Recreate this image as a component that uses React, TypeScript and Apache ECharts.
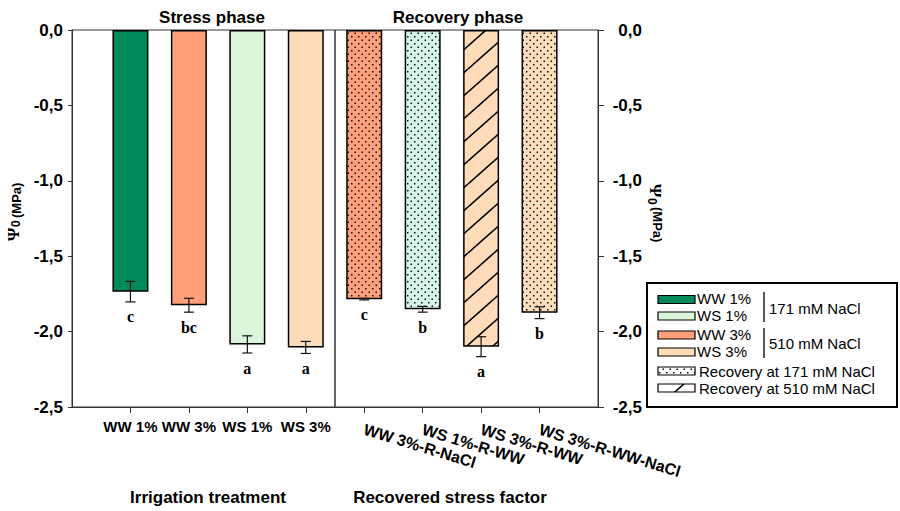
import React, { useEffect, useRef } from "react";
import * as echarts from "echarts";

// ---------- data ----------
const stressCategories = ["WW 1%", "WW 3%", "WS 1%", "WS 3%"];
const stressValues = [-1.735, -1.825, -2.085, -2.105];
const stressErrors = [0.068, 0.046, 0.057, 0.04];
const stressLetters = ["c", "bc", "a", "a"];

const recoveryCategories = ["WW 3%-R-NaCl", "WS 1%-R-WW", "WS 3%-R-WW", "WS 3%-R-WW-NaCl"];
const recoveryValues = [-1.785, -1.852, -2.1, -1.875];
const recoveryErrors = [0.005, 0.019, 0.066, 0.039];
const recoveryLetters = ["c", "b", "a", "b"];

const stressColors = ["#008a5c", "#ffa07a", "#dbf5db", "#ffdcb9"];
const recoveryColors = ["#ffa07a", "#d6f5ea", "#ffdcb9", "#ffdcb9"];
const recoveryPatterns = ["dots", "dots", "hatch", "dots"];

const yMin = -2.5;
const yMax = 0;
const yStep = 0.5;

// ---------- helpers ----------
function dotPattern(bg: string) {
  const c = document.createElement("canvas");
  c.width = 7;
  c.height = 7;
  const ctx = c.getContext("2d")!;
  ctx.fillStyle = bg;
  ctx.fillRect(0, 0, 7, 7);
  ctx.fillStyle = "#111";
  ctx.fillRect(1, 1, 1.5, 1.5);
  ctx.fillRect(4.5, 4.5, 1.5, 1.5);
  return { image: c, repeat: "repeat", imageWidth: 7, imageHeight: 7 } as any;
}

function hatchPattern(bg: string) {
  const W = 26;
  const H = 23;
  const c = document.createElement("canvas");
  c.width = W;
  c.height = H;
  const ctx = c.getContext("2d")!;
  ctx.fillStyle = bg;
  ctx.fillRect(0, 0, W, H);
  ctx.strokeStyle = "#000";
  ctx.lineWidth = 1.6;
  for (let dx = -W; dx <= W; dx += W) {
    for (let dy = -H; dy <= H; dy += H) {
      ctx.beginPath();
      ctx.moveTo(dx, dy + H);
      ctx.lineTo(dx + W, dy);
      ctx.stroke();
    }
  }
  return { image: c, repeat: "repeat", imageWidth: W, imageHeight: H } as any;
}

function fill(bg: string, pat: string) {
  if (pat === "dots") return dotPattern(bg);
  if (pat === "hatch") return hatchPattern(bg);
  return bg;
}

const fmtY = (v: number) => (Math.abs(v) < 1e-9 ? "0,0" : v.toFixed(1).replace(".", ","));

function errorSeries(xi: number, values: number[], errors: number[], letters: string[]) {
  return {
    type: "custom",
    xAxisIndex: xi,
    yAxisIndex: xi,
    z: 5,
    clip: false,
    encode: { x: 0, y: 1 },
    data: values.map((v, i) => [i + 1, v, errors[i]]),
    renderItem: (params: any, api: any) => {
      const x = api.value(0);
      const y = api.value(1);
      const e = api.value(2);
      const top = api.coord([x, y + e]);
      const bot = api.coord([x, y - e]);
      const cx = top[0];
      const hw = 5;
      const ls = { stroke: "#111", lineWidth: 1.2 };
      return {
        type: "group",
        children: [
          { type: "line", shape: { x1: cx, y1: top[1], x2: cx, y2: bot[1] }, style: ls },
          { type: "line", shape: { x1: cx - hw, y1: top[1], x2: cx + hw, y2: top[1] }, style: ls },
          { type: "line", shape: { x1: cx - hw, y1: bot[1], x2: cx + hw, y2: bot[1] }, style: ls },
          {
            type: "text",
            x: cx,
            y: bot[1] + 7,
            style: {
              text: letters[params.dataIndex],
              align: "center",
              verticalAlign: "top",
              font: 'bold 16px "Liberation Serif"',
              fill: "#000",
            },
          },
        ],
      };
    },
  };
}

function xAxisCfg(gi: number, min: number, max: number, cats: string[], rotate: number, margin: number, size: number) {
  return {
    type: "value",
    gridIndex: gi,
    min,
    max,
    axisLine: { show: true, onZero: false, lineStyle: { color: "#333", width: 1 } },
    axisTick: { show: true, customValues: [1, 2, 3, 4], length: 6, lineStyle: { color: "#333" } },
    axisLabel: {
      customValues: [1, 2, 3, 4],
      formatter: (v: number) => cats[Math.round(v) - 1] ?? "",
      fontWeight: "bold",
      fontSize: size,
      fontFamily: "Liberation Sans",
      color: "#000",
      rotate,
      margin,
    },
    splitLine: { show: false },
  };
}

function yAxisCfg(gi: number, position: string, tickLen: number, margin: number, align?: string) {
  return {
    type: "value",
    gridIndex: gi,
    position,
    min: yMin,
    max: yMax,
    interval: yStep,
    axisLine: { show: true, onZero: false, lineStyle: { color: "#333", width: 1 } },
    axisTick: { show: true, inside: false, length: tickLen, lineStyle: { color: "#333" } },
    axisLabel: {
      formatter: fmtY,
      fontWeight: "bold",
      fontSize: 17,
      fontFamily: "Liberation Sans",
      color: "#000",
      margin,
      ...(align ? { align } : {}),
    },
    splitLine: { show: false },
  };
}

function yName(x: number, y: number, rotation: number, subDy: number, unitDy: number) {
  return {
    type: "group",
    x,
    y,
    rotation,
    children: [
      {
        type: "text",
        x: -27,
        y: 0,
        style: { text: "Ψ", font: 'bold 17px "Liberation Serif"', fill: "#000", align: "left", verticalAlign: "middle" },
      },
      {
        type: "text",
        x: -13,
        y: subDy,
        style: { text: "0", font: 'bold 12px "Liberation Sans"', fill: "#000", align: "left", verticalAlign: "middle" },
      },
      {
        type: "text",
        x: -4,
        y: unitDy,
        style: { text: "(MPa)", font: 'bold 13px "Liberation Sans"', fill: "#000", align: "left", verticalAlign: "middle" },
      },
    ],
  };
}

function legendGraphics() {
  const items: any[] = [];
  items.push({
    type: "rect",
    shape: { x: 647, y: 283, width: 250, height: 124 },
    style: { fill: "#fff", stroke: "#000", lineWidth: 2 },
    z: 10,
  });
  const sw = (y: number, f: any) => ({
    type: "rect",
    shape: { x: 658, y, width: 37, height: 8 },
    style: { fill: f, stroke: "#000", lineWidth: 1.2 },
    z: 11,
  });
  const txt = (x: number, y: number, t: string) => ({
    type: "text",
    x,
    y,
    style: {
      text: t,
      font: '15px "Liberation Sans"',
      lineHeight: 15,
      fill: "#000",
      align: "left",
      verticalAlign: "middle",
    },
    z: 11,
  });
  const vline = (y1: number, y2: number) => ({
    type: "line",
    shape: { x1: 764, y1, x2: 764, y2 },
    style: { stroke: "#000", lineWidth: 1.3 },
    z: 11,
  });
  items.push(sw(295.5, stressColors[0]), txt(697, 298.5, "WW 1%"));
  items.push(sw(312, stressColors[2]), txt(697, 315.5, "WS 1%"));
  items.push(vline(292, 322), txt(769, 308, "171 mM NaCl"));
  items.push(sw(331, stressColors[1]), txt(697, 334.5, "WW 3%"));
  items.push(sw(348, stressColors[3]), txt(697, 351.5, "WS 3%"));
  items.push(vline(328, 358), txt(769, 343, "510 mM NaCl"));
  items.push(sw(367, dotPattern("#fff")), txt(699, 371, "Recovery at 171 mM NaCl"));
  items.push(sw(384, hatchPattern("#fff")), txt(699, 388, "Recovery at 510 mM NaCl"));
  return items;
}

export default function App() {
  const ref = useRef<HTMLDivElement>(null);
  useEffect(() => {
    const chart = echarts.init(ref.current!, undefined, { renderer: "svg" });
    const option: any = {
      animation: false,
      backgroundColor: "#fff",
      textStyle: { fontFamily: "Liberation Sans" },
      grid: [
        { left: 72, top: 30, width: 263, height: 377, show: true, borderColor: "#333", borderWidth: 1, backgroundColor: "transparent", containLabel: false },
        { left: 335, top: 30, width: 263, height: 377, show: true, borderColor: "#333", borderWidth: 1, backgroundColor: "transparent", containLabel: false },
      ],
      xAxis: [
        xAxisCfg(0, 0, 4.5, stressCategories, 0, 12, 15),
        xAxisCfg(1, 0.5, 5, recoveryCategories, -17, 22, 16),
      ],
      yAxis: [yAxisCfg(0, "left", 4, 9), yAxisCfg(1, "right", 6, 44, "right")],
      series: [
        {
          type: "bar",
          xAxisIndex: 0,
          yAxisIndex: 0,
          barWidth: 36,
          z: 2,
          itemStyle: { borderColor: "#000", borderWidth: 1.5 },
          data: stressValues.map((v, i) => ({ value: [i + 1, v], itemStyle: { color: stressColors[i] } })),
        },
        {
          type: "bar",
          xAxisIndex: 1,
          yAxisIndex: 1,
          barWidth: 36,
          z: 2,
          itemStyle: { borderColor: "#000", borderWidth: 1.5 },
          data: recoveryValues.map((v, i) => ({
            value: [i + 1, v],
            itemStyle: { color: fill(recoveryColors[i], recoveryPatterns[i]) },
          })),
        },
        errorSeries(0, stressValues, stressErrors, stressLetters),
        errorSeries(1, recoveryValues, recoveryErrors, recoveryLetters),
      ],
      graphic: [
        {
          type: "text",
          x: 212,
          y: 17,
          style: { text: "Stress phase", font: 'bold 17px "Liberation Sans"', fill: "#000", align: "center", verticalAlign: "middle" },
        },
        {
          type: "text",
          x: 458,
          y: 17,
          style: { text: "Recovery phase", font: 'bold 17px "Liberation Sans"', fill: "#000", align: "center", verticalAlign: "middle" },
        },
        {
          type: "text",
          x: 208,
          y: 497,
          style: { text: "Irrigation treatment", font: 'bold 17px "Liberation Sans"', fill: "#000", align: "center", verticalAlign: "middle" },
        },
        {
          type: "text",
          x: 450,
          y: 497,
          style: { text: "Recovered stress factor", font: 'bold 17px "Liberation Sans"', fill: "#000", align: "center", verticalAlign: "middle" },
        },
        yName(13, 214, Math.PI / 2, 3, 3),
        yName(655, 211, -Math.PI / 2, 3, -2),
        ...legendGraphics(),
      ],
    };
    chart.setOption(option);
    return () => chart.dispose();
  }, []);
  return (
    <div
      ref={ref}
      style={{ position: "fixed", left: 0, top: 0, width: 900, height: 511, background: "#fff" }}
    />
  );
}
